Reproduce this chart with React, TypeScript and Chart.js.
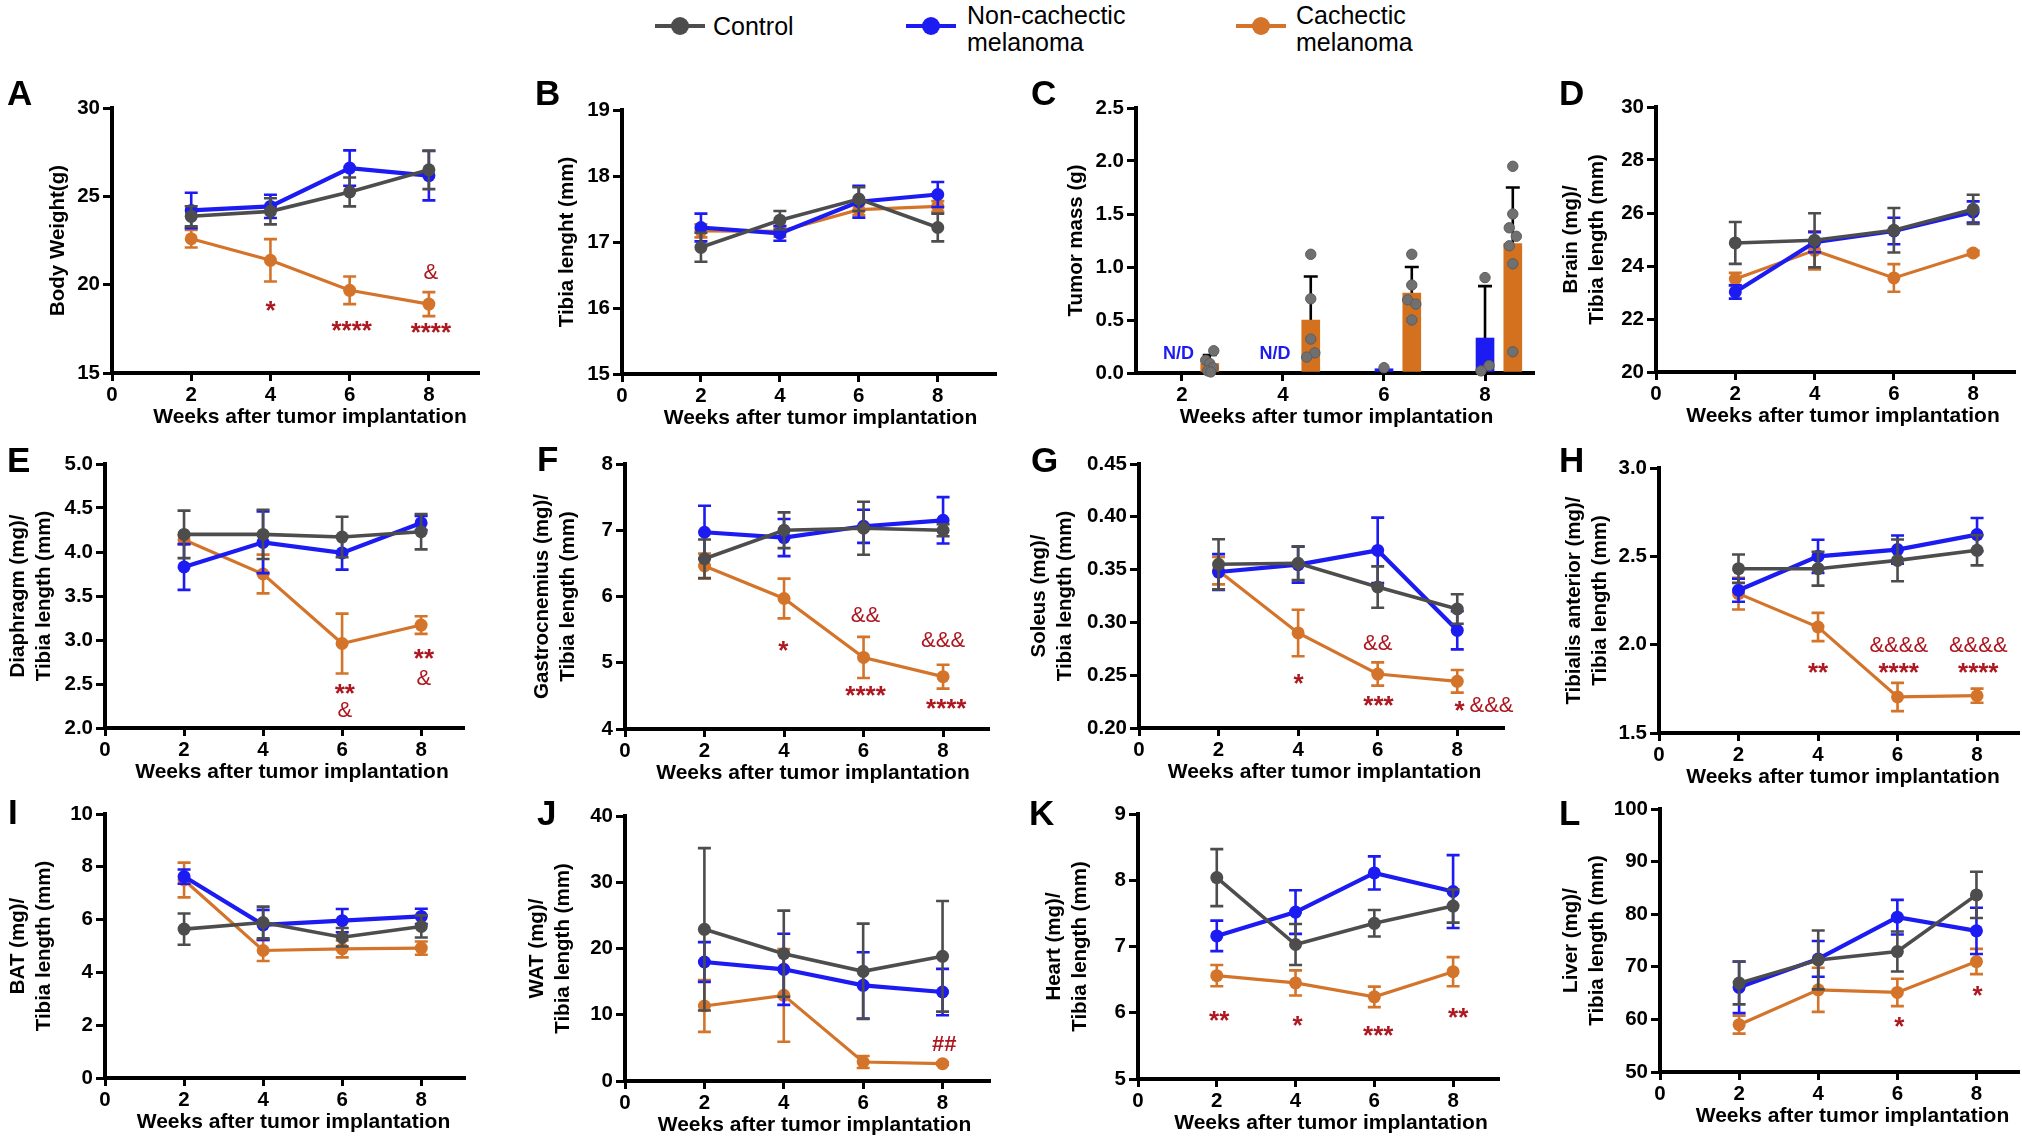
import React, { useEffect, useRef } from "react";
import { Chart, registerables } from "chart.js";

Chart.register(...registerables);

const FONT = '"Liberation Sans", Arial, Helvetica, sans-serif';
const GRAY = "#4d4d4d";
const BLUE = "#1b1bf2";
const ORANGE = "#d3742a";
const BAR_ORANGE = "#d4711f";
const DOT = "#707070";
const RED = "#ad1820";

Chart.defaults.font.family = FONT;

// ---------- shared ----------
const WEEKS = [2, 4, 6, 8];
const SERIES = ["Control", "Non-cachectic melanoma", "Cachectic melanoma"];
const X_TITLE = "Weeks after tumor implantation";
const X_TICKS = [0, 2, 4, 6, 8];
const X_TICKS_C = [2, 4, 6, 8];

// ---------- A: Body weight ----------
const A_CTRL = [23.87, 24.15, 25.25, 26.5];
const A_CTRL_SEM = [0.57, 0.74, 0.82, 1.09];
const A_NON = [24.2, 24.43, 26.6, 26.17];
const A_NON_SEM = [1.0, 0.66, 1.0, 1.4];
const A_CAC = [22.6, 21.38, 19.68, 18.9];
const A_CAC_SEM = [0.5, 1.2, 0.78, 0.68];
const A_MARKS = [
  { x: 4.0, y: 18.77, t: "*" },
  { x: 6.05, y: 17.64, t: "****" },
  { x: 8.05, y: 17.55, t: "****" },
  { x: 8.05, y: 20.66, t: "&" },
];
const A_YTICKS = [15, 20, 25, 30];

// ---------- B: Tibia length ----------
const B_CTRL = [16.92, 17.33, 17.65, 17.22];
const B_CTRL_SEM = [0.22, 0.14, 0.18, 0.21];
const B_NON = [17.22, 17.13, 17.61, 17.72];
const B_NON_SEM = [0.21, 0.11, 0.24, 0.19];
const B_CAC = [17.17, 17.16, 17.49, 17.54];
const B_CAC_SEM = [0.1, 0.08, 0.08, 0.08];
const B_YTICKS = [15, 16, 17, 18, 19];

// ---------- C: Tumor mass ----------
const C_NON = [null, null, 0.04, 0.33];
const C_NON_SD = [0, 0, 0, 0.49];
const C_CAC = [0.09, 0.5, 0.755, 1.22];
const C_CAC_SD = [0.08, 0.41, 0.245, 0.53];
const C_DOTS_CAC_W2 = [0.21, 0.12, 0.09, 0.05, 0.02, 0.01];
const C_DOTS_CAC_W4 = [1.12, 0.7, 0.32, 0.19, 0.15];
const C_DOTS_NON_W6 = [0.05];
const C_DOTS_CAC_W6 = [1.12, 0.83, 0.69, 0.65, 0.5];
const C_DOTS_NON_W8 = [0.9, 0.07, 0.02];
const C_DOTS_CAC_W8 = [1.95, 1.5, 1.37, 1.29, 1.2, 1.03, 0.2];
const C_MARKS = [
  { x: 1.93, y: 0.18, t: "N/D" },
  { x: 3.84, y: 0.18, t: "N/D" },
];
const C_YTICKS = [0, 0.5, 1.0, 1.5, 2.0, 2.5];

// ---------- D: Brain ----------
const D_CTRL = [24.87, 24.97, 25.35, 26.14];
const D_CTRL_SEM = [0.79, 1.02, 0.84, 0.55];
const D_NON = [23.02, 24.9, 25.32, 26.04];
const D_NON_SEM = [0.25, 0.38, 0.5, 0.4];
const D_CAC = [23.51, 24.59, 23.55, 24.49];
const D_CAC_SEM = [0.23, 0.72, 0.52, 0.08];
const D_YTICKS = [20, 22, 24, 26, 28, 30];

// ---------- E: Diaphragm ----------
const E_CTRL = [4.2, 4.2, 4.17, 4.23];
const E_CTRL_SEM = [0.27, 0.28, 0.23, 0.2];
const E_NON = [3.83, 4.11, 3.99, 4.33];
const E_NON_SEM = [0.26, 0.35, 0.19, 0.08];
const E_CAC = [4.14, 3.75, 2.96, 3.17];
const E_CAC_SEM = [0.05, 0.22, 0.34, 0.1];
const E_MARKS = [
  { x: 6.07, y: 2.44, t: "**" },
  { x: 6.07, y: 2.19, t: "&" },
  { x: 8.07, y: 2.84, t: "**" },
  { x: 8.07, y: 2.56, t: "&" },
];
const E_YTICKS = [2.0, 2.5, 3.0, 3.5, 4.0, 4.5, 5.0];

// ---------- F: Gastrocnemius ----------
const F_CTRL = [6.57, 7.0, 7.03, 7.0];
const F_CTRL_SEM = [0.29, 0.27, 0.4, 0.09];
const F_NON = [6.97, 6.89, 7.06, 7.15];
const F_NON_SEM = [0.4, 0.28, 0.25, 0.35];
const F_CAC = [6.46, 5.97, 5.08, 4.79];
const F_CAC_SEM = [0.19, 0.3, 0.31, 0.18];
const F_MARKS = [
  { x: 3.98, y: 5.25, t: "*" },
  { x: 6.05, y: 5.7, t: "&&" },
  { x: 6.05, y: 4.57, t: "****" },
  { x: 8.0, y: 5.33, t: "&&&" },
  { x: 8.08, y: 4.37, t: "****" },
];
const F_YTICKS = [4, 5, 6, 7, 8];

// ---------- G: Soleus ----------
const G_CTRL = [0.355, 0.356, 0.3335, 0.3127];
const G_CTRL_SEM = [0.0237, 0.016, 0.0196, 0.014];
const G_NON = [0.3477, 0.3547, 0.3682, 0.2925];
const G_NON_SEM = [0.017, 0.017, 0.031, 0.018];
const G_CAC = [0.349, 0.29, 0.2511, 0.2442];
const G_CAC_SEM = [0.013, 0.022, 0.011, 0.0107];
const G_MARKS = [
  { x: 4.01, y: 0.2464, t: "*" },
  { x: 6.0, y: 0.2795, t: "&&" },
  { x: 6.02, y: 0.2253, t: "***" },
  { x: 8.06, y: 0.2205, t: "*" },
  { x: 8.86, y: 0.2205, t: "&&&" },
];
const G_YTICKS = [0.2, 0.25, 0.3, 0.35, 0.4, 0.45];

// ---------- H: Tibialis anterior ----------
const H_CTRL = [2.43, 2.43, 2.477, 2.534];
const H_CTRL_SEM = [0.08, 0.096, 0.118, 0.085];
const H_NON = [2.308, 2.5, 2.538, 2.623];
const H_NON_SEM = [0.065, 0.094, 0.08, 0.094];
const H_CAC = [2.289, 2.1, 1.704, 1.711];
const H_CAC_SEM = [0.09, 0.08, 0.08, 0.04];
const H_MARKS = [
  { x: 4.0, y: 1.868, t: "**" },
  { x: 6.03, y: 1.99, t: "&&&&" },
  { x: 6.03, y: 1.868, t: "****" },
  { x: 8.03, y: 1.99, t: "&&&&" },
  { x: 8.03, y: 1.868, t: "****" },
];
const H_YTICKS = [1.5, 2.0, 2.5, 3.0];

// ---------- I: BAT ----------
const I_CTRL = [5.64, 5.89, 5.33, 5.74];
const I_CTRL_SEM = [0.59, 0.6, 0.35, 0.42];
const I_NON = [7.63, 5.8, 5.96, 6.12];
const I_NON_SEM = [0.27, 0.57, 0.44, 0.29];
const I_CAC = [7.5, 4.83, 4.89, 4.92];
const I_CAC_SEM = [0.66, 0.4, 0.32, 0.25];
const I_YTICKS = [0, 2, 4, 6, 8, 10];

// ---------- J: WAT ----------
const J_CTRL = [22.9, 19.22, 16.55, 18.82];
const J_CTRL_SEM = [12.25, 6.5, 7.2, 8.35];
const J_NON = [17.96, 16.86, 14.44, 13.43];
const J_NON_SEM = [3.0, 5.37, 5.0, 3.5];
const J_CAC = [11.32, 12.93, 2.87, 2.62];
const J_CAC_SEM = [3.9, 7.0, 0.9, 0.2];
const J_MARKS = [{ x: 8.04, y: 5.38, t: "##" }];
const J_YTICKS = [0, 10, 20, 30, 40];

// ---------- K: Heart ----------
const K_CTRL = [8.04, 7.03, 7.35, 7.61];
const K_CTRL_SEM = [0.43, 0.31, 0.2, 0.25];
const K_NON = [7.16, 7.52, 8.11, 7.83];
const K_NON_SEM = [0.23, 0.33, 0.25, 0.55];
const K_CAC = [6.56, 6.45, 6.24, 6.62];
const K_CAC_SEM = [0.16, 0.19, 0.155, 0.22];
const K_MARKS = [
  { x: 2.06, y: 5.95, t: "**" },
  { x: 4.05, y: 5.88, t: "*" },
  { x: 6.1, y: 5.73, t: "***" },
  { x: 8.13, y: 6.0, t: "**" },
];
const K_YTICKS = [5, 6, 7, 8, 9];

// ---------- L: Liver ----------
const L_CTRL = [66.9, 71.3, 72.9, 83.67];
const L_CTRL_SEM = [4.05, 5.6, 3.8, 4.4];
const L_NON = [66.1, 71.5, 79.43, 76.84];
const L_NON_SEM = [4.9, 3.4, 3.3, 4.4];
const L_CAC = [58.99, 65.63, 65.13, 71.0];
const L_CAC_SEM = [1.7, 4.2, 2.6, 2.4];
const L_MARKS = [
  { x: 6.05, y: 59.43, t: "*" },
  { x: 8.03, y: 65.3, t: "*" },
];
const L_YTICKS = [50, 60, 70, 80, 90, 100];

// ---------- layout ----------
const PAD_TOP = 16;
const PAD_RIGHT = 20;
const PAD_BOTTOM = 60;
const TICK_SIZE = 20.5;
const XTITLE_SIZE = 21;
const XTITLE_GAP = 44;
const YTITLE_SIZE = 20.5;
const YTITLE_LH = 1.27;

type Mark = { x: number; y: number; t: string };

type Spec = {
  letter: string;
  kind: "line" | "bar";
  col: number;
  axisX: number;
  axisTop: number;
  axisBottom: number;
  axisRight: number;
  xMin: number;
  xMax: number;
  xTicks: number[];
  yTicks: number[];
  dec: number;
  yTitle: string | string[];
  yTitleX: number;
  xTitleDx: number;
  letterX: number;
  letterBase: number;
  series?: number[][];
  marks: Mark[];
};

const yt = (organ: string) => [organ + " (mg)/", "Tibia length (mm)"];

const PANELS: Spec[] = [
  { letter: "A", kind: "line", col: 0, axisX: 112, axisTop: 108, axisBottom: 373, axisRight: 478, xMin: 0, xMax: 9.24, xTicks: X_TICKS, yTicks: A_YTICKS, dec: 0, yTitle: "Body Weight(g)", yTitleX: 58, xTitleDx: 15, letterX: 7, letterBase: 105, series: [A_CTRL, A_CTRL_SEM, A_NON, A_NON_SEM, A_CAC, A_CAC_SEM], marks: A_MARKS },
  { letter: "B", kind: "line", col: 505, axisX: 622, axisTop: 110, axisBottom: 374, axisRight: 995, xMin: 0, xMax: 9.45, xTicks: X_TICKS, yTicks: B_YTICKS, dec: 0, yTitle: "Tibia lenght (mm)", yTitleX: 567, xTitleDx: 12, letterX: 535, letterBase: 105, series: [B_CTRL, B_CTRL_SEM, B_NON, B_NON_SEM, B_CAC, B_CAC_SEM], marks: [] },
  { letter: "C", kind: "bar", col: 1011, axisX: 1136, axisTop: 108, axisBottom: 373, axisRight: 1533, xMin: 1.09, xMax: 8.95, xTicks: X_TICKS_C, yTicks: C_YTICKS, dec: 1, yTitle: "Tumor mass (g)", yTitleX: 1076, xTitleDx: 2, letterX: 1031, letterBase: 105, marks: C_MARKS },
  { letter: "D", kind: "line", col: 1516, axisX: 1656, axisTop: 107, axisBottom: 372, axisRight: 2014, xMin: 0, xMax: 9.03, xTicks: X_TICKS, yTicks: D_YTICKS, dec: 0, yTitle: yt("Brain"), yTitleX: 1571, xTitleDx: 8, letterX: 1559, letterBase: 105, series: [D_CTRL, D_CTRL_SEM, D_NON, D_NON_SEM, D_CAC, D_CAC_SEM], marks: [] },
  { letter: "E", kind: "line", col: 0, axisX: 105, axisTop: 464, axisBottom: 728, axisRight: 463, xMin: 0, xMax: 9.06, xTicks: X_TICKS, yTicks: E_YTICKS, dec: 1, yTitle: yt("Diaphragm"), yTitleX: 18, xTitleDx: 8, letterX: 7, letterBase: 472, series: [E_CTRL, E_CTRL_SEM, E_NON, E_NON_SEM, E_CAC, E_CAC_SEM], marks: E_MARKS },
  { letter: "F", kind: "line", col: 505, axisX: 625, axisTop: 464, axisBottom: 729, axisRight: 988, xMin: 0, xMax: 9.13, xTicks: X_TICKS, yTicks: F_YTICKS, dec: 0, yTitle: yt("Gastrocnemius"), yTitleX: 542, xTitleDx: 6.5, letterX: 537, letterBase: 471, series: [F_CTRL, F_CTRL_SEM, F_NON, F_NON_SEM, F_CAC, F_CAC_SEM], marks: F_MARKS },
  { letter: "G", kind: "line", col: 1011, axisX: 1139, axisTop: 464, axisBottom: 728, axisRight: 1503, xMin: 0, xMax: 9.15, xTicks: X_TICKS, yTicks: G_YTICKS, dec: 2, yTitle: yt("Soleus"), yTitleX: 1039, xTitleDx: 3.5, letterX: 1031, letterBase: 472, series: [G_CTRL, G_CTRL_SEM, G_NON, G_NON_SEM, G_CAC, G_CAC_SEM], marks: G_MARKS },
  { letter: "H", kind: "line", col: 1516, axisX: 1659, axisTop: 468, axisBottom: 733, axisRight: 2018, xMin: 0, xMax: 9.03, xTicks: X_TICKS, yTicks: H_YTICKS, dec: 1, yTitle: yt("Tibialis anterior"), yTitleX: 1574, xTitleDx: 4.5, letterX: 1559, letterBase: 472, series: [H_CTRL, H_CTRL_SEM, H_NON, H_NON_SEM, H_CAC, H_CAC_SEM], marks: H_MARKS },
  { letter: "I", kind: "line", col: 0, axisX: 105, axisTop: 814, axisBottom: 1078, axisRight: 464, xMin: 0, xMax: 9.08, xTicks: X_TICKS, yTicks: I_YTICKS, dec: 0, yTitle: yt("BAT"), yTitleX: 18, xTitleDx: 9, letterX: 8, letterBase: 824, series: [I_CTRL, I_CTRL_SEM, I_NON, I_NON_SEM, I_CAC, I_CAC_SEM], marks: [] },
  { letter: "J", kind: "line", col: 505, axisX: 625, axisTop: 816, axisBottom: 1081, axisRight: 989, xMin: 0, xMax: 9.17, xTicks: X_TICKS, yTicks: J_YTICKS, dec: 0, yTitle: yt("WAT"), yTitleX: 537, xTitleDx: 7.5, letterX: 537, letterBase: 825, series: [J_CTRL, J_CTRL_SEM, J_NON, J_NON_SEM, J_CAC, J_CAC_SEM], marks: J_MARKS },
  { letter: "K", kind: "line", col: 1011, axisX: 1138, axisTop: 814, axisBottom: 1079, axisRight: 1498, xMin: 0, xMax: 9.14, xTicks: X_TICKS, yTicks: K_YTICKS, dec: 0, yTitle: yt("Heart"), yTitleX: 1054, xTitleDx: 13, letterX: 1029, letterBase: 825, series: [K_CTRL, K_CTRL_SEM, K_NON, K_NON_SEM, K_CAC, K_CAC_SEM], marks: K_MARKS },
  { letter: "L", kind: "line", col: 1516, axisX: 1660, axisTop: 809, axisBottom: 1072, axisRight: 2018, xMin: 0, xMax: 9.05, xTicks: X_TICKS, yTicks: L_YTICKS, dec: 0, yTitle: yt("Liver"), yTitleX: 1571, xTitleDx: 13.5, letterX: 1559, letterBase: 825, series: [L_CTRL, L_CTRL_SEM, L_NON, L_NON_SEM, L_CAC, L_CAC_SEM], marks: L_MARKS },
];

// ---------- plugins ----------
const errorBarPlugin = {
  id: "errorBars",
  beforeDatasetDraw(chart: any, args: any) {
    const ds = chart.data.datasets[args.index];
    if (!ds || !ds.errors) return;
    const ys = chart.scales.y;
    const ctx = chart.ctx;
    ctx.save();
    ctx.strokeStyle = ds.errorColor || ds.borderColor;
    ctx.lineWidth = ds.errorWidth || 2.6;
    const hw = ds.capHalf || 6.5;
    args.meta.data.forEach((el: any, i: number) => {
      const e = ds.errors[i];
      if (!e) return;
      const v = ds.data[i].y;
      const x = el.x;
      const top = ys.getPixelForValue(v + e);
      const bot = ds.errorUpOnly ? ys.getPixelForValue(v) : ys.getPixelForValue(v - e);
      ctx.beginPath();
      ctx.moveTo(x, top);
      ctx.lineTo(x, bot);
      ctx.moveTo(x - hw, top);
      ctx.lineTo(x + hw, top);
      if (!ds.errorUpOnly) {
        ctx.moveTo(x - hw, bot);
        ctx.lineTo(x + hw, bot);
      }
      ctx.stroke();
    });
    ctx.restore();
  },
};

function markStyle(t: string) {
  if (t === "N/D") return { font: `bold 18px ${FONT}`, color: BLUE, dy: 0 };
  if (/^\*+$/.test(t)) return { font: `bold 26px ${FONT}`, color: RED, dy: 0.22 * 26 };
  if (t.indexOf("#") >= 0) return { font: `bold 22px ${FONT}`, color: RED, dy: 0 };
  return { font: `22px ${FONT}`, color: RED, dy: 0 };
}

function makeTextPlugin(items: Mark[], xTitleDx: number) {
  return {
    id: "panelText",
    afterDatasetsDraw(chart: any) {
      const ctx = chart.ctx;
      const xs = chart.scales.x;
      const ys = chart.scales.y;
      ctx.save();
      ctx.textAlign = "center";
      ctx.textBaseline = "middle";
      for (const it of items) {
        const s = markStyle(it.t);
        ctx.font = s.font;
        ctx.fillStyle = s.color;
        ctx.fillText(it.t, xs.getPixelForValue(it.x), ys.getPixelForValue(it.y) + s.dy);
      }
      ctx.restore();
    },
    afterDraw(chart: any) {
      const ctx = chart.ctx;
      const a = chart.chartArea;
      ctx.save();
      ctx.textAlign = "center";
      ctx.textBaseline = "middle";
      ctx.font = `bold ${XTITLE_SIZE}px ${FONT}`;
      ctx.fillStyle = "#000";
      ctx.fillText(X_TITLE, (a.left + a.right) / 2 + xTitleDx, a.bottom + XTITLE_GAP);
      ctx.restore();
    },
  };
}

// ---------- config builders ----------
function lineDs(label: string, vals: number[], errs: number[], color: string, width: number) {
  return {
    type: "line",
    label,
    data: WEEKS.map((w, i) => ({ x: w, y: vals[i] })),
    errors: errs,
    borderColor: color,
    backgroundColor: color,
    borderWidth: width,
    pointRadius: 6.5,
    pointHoverRadius: 6.5,
    pointBackgroundColor: color,
    pointBorderColor: color,
    pointBorderWidth: 0,
    tension: 0,
    fill: false,
    clip: false,
  };
}

function dotDs(week: number, shift: number, vals: number[], dx: number[]) {
  return {
    type: "scatter",
    label: "points",
    data: vals.map((v, i) => ({ x: week + shift + dx[i], y: v })),
    backgroundColor: DOT,
    borderColor: "#5c5c5c",
    borderWidth: 1,
    pointRadius: 5.2,
    pointHoverRadius: 5.2,
    showLine: false,
    order: 0,
    clip: false,
  };
}

const C_SHIFT = 0.55;

function barDatasets() {
  const nonData: any[] = [];
  const nonErr: number[] = [];
  WEEKS.forEach((w, i) => {
    if (C_NON[i] !== null) {
      nonData.push({ x: w, y: C_NON[i] });
      nonErr.push(C_NON_SD[i]);
    }
  });
  return [
    dotDs(2, C_SHIFT, C_DOTS_CAC_W2, [0.08, -0.08, 0.0, 0.06, -0.04, 0.02]),
    dotDs(4, C_SHIFT, C_DOTS_CAC_W4, [0, 0, 0, 0.08, -0.08]),
    dotDs(6, 0, C_DOTS_NON_W6, [0]),
    dotDs(6, C_SHIFT, C_DOTS_CAC_W6, [0, 0, -0.08, 0.08, 0]),
    dotDs(8, 0, C_DOTS_NON_W8, [0, 0.08, -0.08]),
    dotDs(8, C_SHIFT, C_DOTS_CAC_W8, [0.0, 0.0, -0.07, 0.07, -0.07, 0.0, 0.0]),
    {
      type: "bar",
      label: SERIES[1],
      data: nonData,
      errors: nonErr,
      errorUpOnly: true,
      errorColor: "#000",
      capHalf: 7,
      backgroundColor: BLUE,
      borderWidth: 0,
      barThickness: 18,
      grouped: false,
      order: 1,
    },
    {
      type: "bar",
      label: SERIES[2],
      data: WEEKS.map((w, i) => ({ x: w + C_SHIFT, y: C_CAC[i] })),
      errors: C_CAC_SD,
      errorUpOnly: true,
      errorColor: "#000",
      capHalf: 7,
      backgroundColor: BAR_ORANGE,
      borderWidth: 0,
      barThickness: 18,
      grouped: false,
      order: 1,
    },
  ];
}

function buildConfig(p: Spec): any {
  const tickFont = { family: FONT, size: TICK_SIZE, weight: "bold" as const };
  const grid = (len: number) => ({
    display: true,
    drawOnChartArea: false,
    drawTicks: true,
    offset: false,
    color: "#000",
    lineWidth: 3,
    tickWidth: 3,
    tickLength: len,
    tickColor: "#000",
  });
  const yLH = YTITLE_SIZE * YTITLE_LH;
  const datasets =
    p.kind === "line"
      ? [
          lineDs(SERIES[0], p.series![0], p.series![1], GRAY, 3.6),
          lineDs(SERIES[1], p.series![2], p.series![3], BLUE, 4.2),
          lineDs(SERIES[2], p.series![4], p.series![5], ORANGE, 3.2),
        ]
      : barDatasets();
  const yMin = p.yTicks[0];
  const yMax = p.yTicks[p.yTicks.length - 1];
  return {
    type: p.kind === "line" ? "line" : "bar",
    data: { datasets },
    options: {
      animation: false,
      responsive: false,
      devicePixelRatio: 1,
      events: [],
      layout: { autoPadding: false, padding: { top: PAD_TOP, right: PAD_RIGHT, bottom: 0, left: 0 } },
      plugins: { legend: { display: false }, tooltip: { enabled: false } },
      scales: {
        x: {
          type: "linear",
          min: p.xMin,
          max: p.xMax,
          bounds: "data",
          offset: false,
          afterBuildTicks: (s: any) => {
            s.ticks = p.xTicks.map((v) => ({ value: v }));
          },
          afterFit: (s: any) => {
            s.height = PAD_BOTTOM;
          },
          ticks: {
            font: tickFont,
            color: "#000",
            padding: 2,
            autoSkip: false,
            maxRotation: 0,
            minRotation: 0,
            callback: (v: any) => String(v),
          },
          grid: grid(8),
          border: { display: true, color: "#000", width: 4 },
          title: { display: false },
        },
        y: {
          type: "linear",
          min: yMin,
          max: yMax,
          bounds: "data",
          afterBuildTicks: (s: any) => {
            s.ticks = p.yTicks.map((v) => ({ value: v }));
          },
          afterFit: (s: any) => {
            s.width = p.axisX - p.col;
          },
          ticks: {
            font: tickFont,
            color: "#000",
            padding: 3,
            autoSkip: false,
            callback: (v: any) => Number(v).toFixed(p.dec),
          },
          grid: grid(9),
          border: { display: true, color: "#000", width: 4 },
          title: {
            display: true,
            text: p.yTitle,
            color: "#000",
            font: { family: FONT, size: YTITLE_SIZE, weight: "bold", lineHeight: YTITLE_LH },
            padding: { top: p.yTitleX - p.col - yLH / 2, bottom: 0 },
          },
        },
      },
    },
    plugins: [errorBarPlugin, makeTextPlugin(p.marks, p.xTitleDx)],
  };
}

// ---------- components ----------
function Panel({ spec }: { spec: Spec }) {
  const ref = useRef<HTMLCanvasElement | null>(null);
  const left = spec.col;
  const top = Math.round(spec.axisTop - PAD_TOP);
  const width = Math.round(spec.axisRight + PAD_RIGHT - spec.col);
  const height = Math.round(spec.axisBottom + PAD_BOTTOM - top);
  useEffect(() => {
    if (!ref.current) return;
    const chart = new Chart(ref.current, buildConfig(spec));
    return () => chart.destroy();
  }, [spec]);
  return (
    <>
      <canvas
        ref={ref}
        width={width}
        height={height}
        style={{ position: "absolute", left, top, width, height }}
      />
      <div
        style={{
          position: "absolute",
          left: spec.letterX,
          top: spec.letterBase - 29.6,
          fontFamily: FONT,
          fontSize: 35,
          fontWeight: 700,
          lineHeight: "35px",
          color: "#000",
        }}
      >
        {spec.letter}
      </div>
    </>
  );
}

const LEGEND_POS = [
  { cx: 680, tx: 713 },
  { cx: 931, tx: 967 },
  { cx: 1261, tx: 1296 },
];
const LEGEND_COLORS = [GRAY, BLUE, ORANGE];

function Legend() {
  return (
    <>
      {SERIES.map((name, i) => {
        const lines = name.split(" ");
        const { cx, tx } = LEGEND_POS[i];
        const textTop = lines.length === 1 ? 26 - 13.5 : 15 - 13.5;
        return (
          <React.Fragment key={name}>
            <div style={{ position: "absolute", left: cx - 25, top: 24, width: 50, height: 4, background: LEGEND_COLORS[i] }} />
            <div style={{ position: "absolute", left: cx - 9, top: 17, width: 18, height: 18, borderRadius: "50%", background: LEGEND_COLORS[i] }} />
            <div style={{ position: "absolute", left: tx, top: textTop, fontFamily: FONT, fontSize: 25, lineHeight: "27px", color: "#000", whiteSpace: "nowrap" }}>
              {lines.map((l) => (
                <div key={l}>{l}</div>
              ))}
            </div>
          </React.Fragment>
        );
      })}
    </>
  );
}

export default function App() {
  return (
    <div
      style={{
        position: "absolute",
        left: 0,
        top: 0,
        width: 2022,
        height: 1142,
        overflow: "hidden",
        background: "#fff",
      }}
    >
      <Legend />
      {PANELS.map((p) => (
        <Panel key={p.letter} spec={p} />
      ))}
    </div>
  );
}
